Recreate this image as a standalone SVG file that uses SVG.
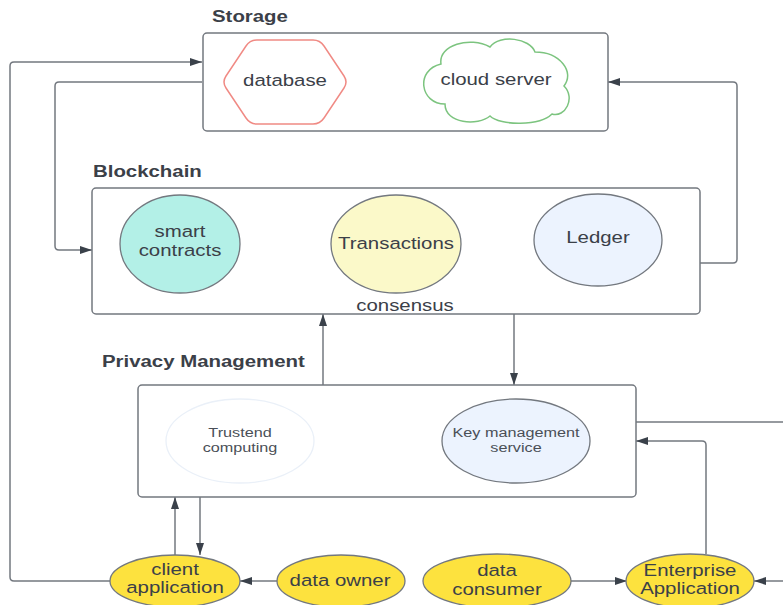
<svg xmlns="http://www.w3.org/2000/svg" width="783" height="605" viewBox="0 0 783 605">
<style>
.box{fill:#ffffff;stroke:#73787f;stroke-width:1.5}
.ell{stroke:#73787f;stroke-width:1.3}
.t{font-family:"Liberation Sans",Arial,sans-serif;font-size:17px;fill:#3b4048;text-anchor:middle}
.s{font-size:13.5px;fill:#4a4f57}
.h{font-family:"Liberation Sans",Arial,sans-serif;font-size:17px;font-weight:bold;fill:#3b4048}
.c{fill:none;stroke:#73787f;stroke-width:1.5}
.y{fill:#fde23e}
</style>
<defs>
<marker id="ah" viewBox="0 0 12 8" refX="12" refY="4" markerWidth="12" markerHeight="8" markerUnits="userSpaceOnUse" orient="auto">
<path d="M0,0 L12,4 L0,8 Z" fill="#3a414a"/>
</marker>
</defs>

<g id="connectors">
<path class="c" d="M110,581 H14 Q10,581 10,577 V66 Q10,62 14,62 H202" marker-end="url(#ah)"/>
<path class="c" d="M202,82 H59 Q55,82 55,86 V246 Q55,250 59,250 H92" marker-end="url(#ah)"/>
<path class="c" d="M700,263 H733 Q737,263 737,259 V86 Q737,82 733,82 H608" marker-end="url(#ah)"/>
<path class="c" d="M323,385 V314" marker-end="url(#ah)"/>
<path class="c" d="M514,314 V385" marker-end="url(#ah)"/>
<path class="c" d="M636,422 H783"/>
<path class="c" d="M706,554 V445 Q706,441 702,441 H636" marker-end="url(#ah)"/>
<path class="c" d="M175,555 V497" marker-end="url(#ah)"/>
<path class="c" d="M200,497 V555" marker-end="url(#ah)"/>
<path class="c" d="M277,581 H240" marker-end="url(#ah)"/>
<path class="c" d="M571,581 H627" marker-end="url(#ah)"/>
<path class="c" d="M783,581 H754" marker-end="url(#ah)"/>
</g>

<g id="storage">
<text class="h" transform="translate(212 22) scale(1.2 1)">Storage</text>
<rect class="box" x="203" y="33" width="405" height="98" rx="4"/>
</g>
<g id="database">
<path d="M226,76 L246,46 Q250,40 257,40 L313,40 Q320,40 324,46 L344,76 Q348,82 344,88 L324,118 Q320,124 313,124 L257,124 Q250,124 246,118 L226,88 Q222,82 226,76 Z" fill="#ffffff" stroke="#f08a84" stroke-width="1.5"/>
<text class="t" transform="translate(285 86) scale(1.2 1)">database</text>
</g>
<g id="cloud-server">
<path d="M441,64 C438,45 470,36 490,47 C500,34 530,38 535,52 C560,52 575,72 564,86 C576,98 565,118 552,114 C540,126 500,126 490,116 C478,126 445,124 445,104 C420,104 415,70 441,64 Z" fill="#ffffff" stroke="#7cc47f" stroke-width="1.5"/>
<text class="t" transform="translate(496 85) scale(1.2 1)">cloud server</text>
</g>

<g id="blockchain">
<text class="h" transform="translate(93 177) scale(1.2 1)">Blockchain</text>
<rect class="box" x="92" y="188" width="608" height="126" rx="4"/>
<text class="t" transform="translate(405 311) scale(1.2 1)">consensus</text>
</g>
<g id="smart-contracts">
<ellipse class="ell" cx="180" cy="244" rx="60" ry="49" fill="#b3f0e7"/>
<text class="t" transform="translate(180 237) scale(1.2 1)">smart</text>
<text class="t" transform="translate(180 256) scale(1.2 1)">contracts</text>
</g>
<g id="transactions">
<ellipse class="ell" cx="396" cy="244" rx="65" ry="49" fill="#fbf9c9"/>
<text class="t" transform="translate(396 249) scale(1.2 1)">Transactions</text>
</g>
<g id="ledger">
<ellipse class="ell" cx="598" cy="240" rx="64" ry="46" fill="#ecf3fe"/>
<text class="t" transform="translate(598 243) scale(1.2 1)">Ledger</text>
</g>

<g id="privacy-management">
<text class="h" transform="translate(102 367) scale(1.2 1)">Privacy Management</text>
<rect class="box" x="138" y="385" width="498" height="112" rx="4"/>
</g>
<g id="trusted-computing">
<ellipse cx="240" cy="441" rx="74" ry="42" fill="#ffffff" stroke="#eaf0f8" stroke-width="1.3"/>
<text class="t s" transform="translate(240 437) scale(1.2 1)">Trustend</text>
<text class="t s" transform="translate(240 452) scale(1.2 1)">computing</text>
</g>
<g id="key-management">
<ellipse class="ell" cx="516" cy="441" rx="74" ry="42" fill="#ecf3fe"/>
<text class="t s" transform="translate(516 437) scale(1.2 1)">Key management</text>
<text class="t s" transform="translate(516 452) scale(1.2 1)">service</text>
</g>

<g id="client-application">
<ellipse class="ell y" cx="175" cy="581" rx="65" ry="26"/>
<text class="t" transform="translate(175 575) scale(1.2 1)">client</text>
<text class="t" transform="translate(175 593) scale(1.2 1)">application</text>
</g>
<g id="data-owner">
<ellipse class="ell y" cx="341" cy="581" rx="64" ry="26"/>
<text class="t" transform="translate(340 586) scale(1.2 1)">data owner</text>
</g>
<g id="data-consumer">
<ellipse class="ell y" cx="497" cy="581" rx="74" ry="27"/>
<text class="t" transform="translate(497 576) scale(1.2 1)">data</text>
<text class="t" transform="translate(497 595) scale(1.2 1)">consumer</text>
</g>
<g id="enterprise-application">
<ellipse class="ell y" cx="690" cy="581" rx="64" ry="27"/>
<text class="t" transform="translate(690 576) scale(1.2 1)">Enterprise</text>
<text class="t" transform="translate(690 594) scale(1.2 1)">Application</text>
</g>
</svg>
